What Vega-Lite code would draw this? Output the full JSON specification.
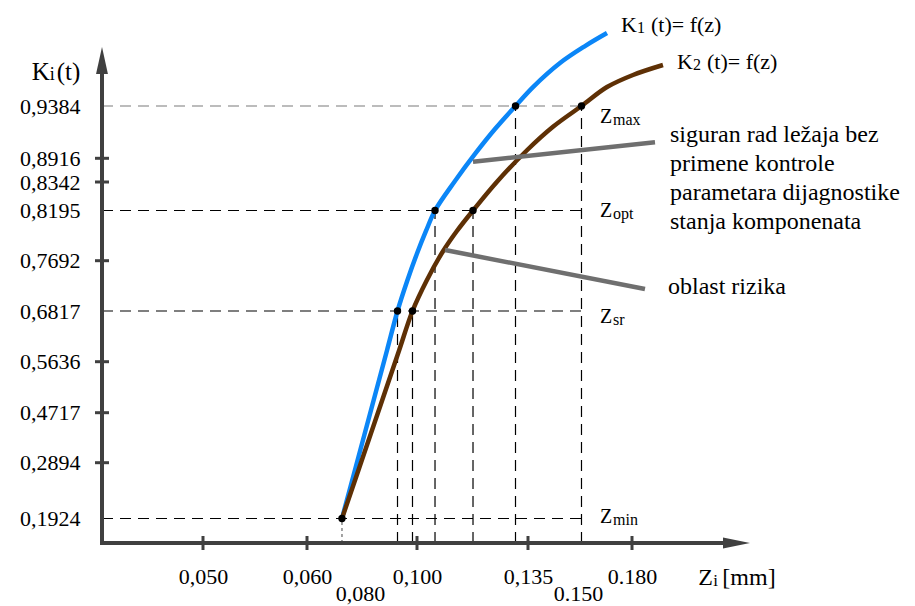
{
  "$schema": "https://vega.github.io/schema/vega-lite/v6.json",
  "width": 648,
  "height": 496,
  "autosize": {"type": "none"},
  "padding": {"left": 102, "top": 47, "right": 165, "bottom": 63},
  "background": "white",
  "config": {"view": {"stroke": null}, "text": {"font": "Liberation Serif", "color": "#000"}},
  "encoding": {
    "x": {
      "field": "z", "type": "quantitative",
      "scale": {
        "domain": [0.04, 0.05, 0.06, 0.08, 0.1, 0.135, 0.15, 0.18, 0.2],
        "range": [0, 101, 205, 258, 315, 426, 476, 530, 648],
        "nice": false, "zero": false
      },
      "axis": {
        "values": [0.05, 0.06, 0.08, 0.1, 0.135, 0.15, 0.18],
        "labelExpr": "(datum.value == 0.15 || datum.value == 0.18) ? format(datum.value, '.3f') : replace(format(datum.value, '.3f'), '.', ',')",
        "title": null, "grid": false, "domain": false, "ticks": false, "tickSize": 0,
        "labelPadding": {"condition": {"test": "datum.value == 0.08 || datum.value == 0.15", "value": 40}, "value": 23},
        "labelFont": "Liberation Serif", "labelFontSize": 22, "labelColor": "#000",
        "labelOverlap": false, "labelFlush": false, "labelBound": false, "labelBaseline": "top"
      }
    },
    "y": {
      "field": "k", "type": "quantitative",
      "scale": {
        "domain": [0, 0.1924, 0.2894, 0.4717, 0.5636, 0.6817, 0.7692, 0.8195, 0.8342, 0.8916, 0.9384, 1.0],
        "range": [496, 471.5, 415.7, 365.7, 314.7, 264, 213.7, 163.5, 135, 111.3, 59, 0],
        "nice": false, "zero": false
      },
      "axis": {
        "values": [0.1924, 0.2894, 0.4717, 0.5636, 0.6817, 0.7692, 0.8195, 0.8342, 0.8916, 0.9384],
        "labelExpr": "replace(format(datum.value, '.4f'), '.', ',')",
        "title": null, "grid": false, "domain": false, "ticks": false, "tickSize": 0,
        "labelPadding": 22,
        "labelFont": "Liberation Serif", "labelFontSize": 22, "labelColor": "#000",
        "labelOverlap": false, "labelFlush": false, "labelBound": false
      }
    }
  },
  "layer": [
    {
      "data": {"values": [
        {"z": 0.04, "z2": 0.15194, "k": 0.1924},
        {"z": 0.04, "z2": 0.15194, "k": 0.6817},
        {"z": 0.04, "z2": 0.15194, "k": 0.8195},
        {"z": 0.04, "z2": 0.15194, "k": 0.9384}
      ]},
      "mark": {"type": "rule", "strokeDash": [11, 7], "strokeWidth": 1.2},
      "encoding": {
        "x2": {"field": "z2"},
        "stroke": {"condition": {"test": "datum.k == 0.9384", "value": "#7a7a7a"}, "value": "#000"}
      }
    },
    {
      "data": {"values": [
        {"z": 0.09316, "k": 0, "k2": 0.6817},
        {"z": 0.09842, "k": 0, "k2": 0.6817},
        {"z": 0.10568, "k": 0, "k2": 0.8195},
        {"z": 0.11766, "k": 0, "k2": 0.8195},
        {"z": 0.13106, "k": 0, "k2": 0.9384},
        {"z": 0.15194, "k": 0, "k2": 0.9384}
      ]},
      "mark": {"type": "rule", "strokeDash": [11, 7], "strokeWidth": 1.2, "color": "#000"},
      "encoding": {"y2": {"field": "k2"}}
    },
    {
      "data": {"values": [{"z": 0.0732, "k": 0, "k2": 0.1924}]},
      "mark": {"type": "rule", "strokeDash": [3, 3], "strokeWidth": 1.2, "color": "#666"},
      "encoding": {"y2": {"field": "k2"}}
    },
    {
      "data": {"values": [
        {"series": "K1", "z": 0.0732, "k": 0.1924},
        {"series": "K1", "z": 0.07843, "k": 0.2824},
        {"series": "K1", "z": 0.08481, "k": 0.4946},
        {"series": "K1", "z": 0.08951, "k": 0.5909},
        {"series": "K1", "z": 0.09316, "k": 0.6817},
        {"series": "K1", "z": 0.09649, "k": 0.7330},
        {"series": "K1", "z": 0.1, "k": 0.7764},
        {"series": "K1", "z": 0.10284, "k": 0.7990},
        {"series": "K1", "z": 0.10568, "k": 0.8195},
        {"series": "K1", "z": 0.11198, "k": 0.8366},
        {"series": "K1", "z": 0.11829, "k": 0.8955},
        {"series": "K1", "z": 0.12459, "k": 0.9178},
        {"series": "K1", "z": 0.13106, "k": 0.9384},
        {"series": "K1", "z": 0.1365, "k": 0.9582},
        {"series": "K1", "z": 0.1446, "k": 0.9833},
        {"series": "K1", "z": 0.15389, "k": 1.0010},
        {"series": "K1", "z": 0.16611, "k": 1.0146},
        {"series": "K2", "z": 0.0732, "k": 0.1924},
        {"series": "K2", "z": 0.07985, "k": 0.2824},
        {"series": "K2", "z": 0.08782, "k": 0.4946},
        {"series": "K2", "z": 0.09377, "k": 0.5909},
        {"series": "K2", "z": 0.09842, "k": 0.6817},
        {"series": "K2", "z": 0.10306, "k": 0.7348},
        {"series": "K2", "z": 0.1082, "k": 0.7787},
        {"series": "K2", "z": 0.11252, "k": 0.7987},
        {"series": "K2", "z": 0.11766, "k": 0.8195},
        {"series": "K2", "z": 0.12523, "k": 0.8349},
        {"series": "K2", "z": 0.13468, "k": 0.8988},
        {"series": "K2", "z": 0.1425, "k": 0.9198},
        {"series": "K2", "z": 0.15194, "k": 0.9384},
        {"series": "K2", "z": 0.16611, "k": 0.9582},
        {"series": "K2", "z": 0.18017, "k": 0.9708},
        {"series": "K2", "z": 0.18525, "k": 0.9812}
      ]},
      "mark": {"type": "line", "strokeWidth": 4.5, "interpolate": "catmull-rom"},
      "encoding": {
        "color": {"field": "series", "type": "nominal", "scale": {"domain": ["K1", "K2"], "range": ["#0b86f7", "#5e3005"]}, "legend": null}
      }
    },
    {
      "data": {"values": [
        {"z": 0.11766, "k": 0.8834, "z2": 0.1839, "k2": 0.9059},
        {"z": 0.10883, "k": 0.7799, "z2": 0.1822, "k2": 0.7200}
      ]},
      "mark": {"type": "rule", "strokeWidth": 4.5, "color": "#6f6f6f"},
      "encoding": {"x2": {"field": "z2"}, "y2": {"field": "k2"}}
    },
    {
      "data": {"values": [
        {"z": 0.0732, "k": 0.1924},
        {"z": 0.09316, "k": 0.6817},
        {"z": 0.09842, "k": 0.6817},
        {"z": 0.10568, "k": 0.8195},
        {"z": 0.11766, "k": 0.8195},
        {"z": 0.13106, "k": 0.9384},
        {"z": 0.15194, "k": 0.9384}
      ]},
      "mark": {"type": "point", "filled": true, "size": 55, "color": "#000", "opacity": 1}
    },
    {
      "data": {"values": [{"z": 0.04, "k": 0, "k2": 0.976}]},
      "mark": {"type": "rule", "strokeWidth": 4, "color": "#404040", "strokeCap": "square"},
      "encoding": {"y2": {"field": "k2"}}
    },
    {
      "data": {"values": [{"z": 0.04, "z2": 0.196, "k": 0}]},
      "mark": {"type": "rule", "strokeWidth": 4, "color": "#404040", "strokeCap": "square"},
      "encoding": {"x2": {"field": "z2"}}
    },
    {
      "data": {"values": [
        {"z": 0.04, "k": 0.2894}, {"z": 0.04, "k": 0.4717}, {"z": 0.04, "k": 0.5636},
        {"z": 0.04, "k": 0.7692}, {"z": 0.04, "k": 0.8342}, {"z": 0.04, "k": 0.8916}
      ]},
      "mark": {"type": "tick", "orient": "horizontal", "size": 14, "thickness": 3, "color": "#404040", "opacity": 1}
    },
    {
      "data": {"values": [
        {"z": 0.05, "k": 0}, {"z": 0.06, "k": 0}, {"z": 0.1, "k": 0}, {"z": 0.135, "k": 0}, {"z": 0.18, "k": 0}
      ]},
      "mark": {"type": "tick", "orient": "vertical", "size": 14, "thickness": 3, "color": "#404040", "opacity": 1}
    },
    {
      "data": {"values": [{"z": 0.04, "k": 1.0, "dir": "up"}, {"z": 0.2, "k": 0, "dir": "right"}]},
      "mark": {"type": "point", "filled": true, "size": 2916, "color": "#404040", "opacity": 1, "strokeWidth": 0},
      "encoding": {
        "shape": {"field": "dir", "type": "nominal", "scale": {"domain": ["up", "right"], "range": ["M0,0L0.22,1L-0.22,1Z", "M0,0L-1,-0.2L-1,0.2Z"]}, "legend": null}
      }
    },
    {
      "data": {"values": [
        {"z": 0.16222, "k": 0.9286, "t": "Z"},
        {"z": 0.16222, "k": 0.8195, "t": "Z"},
        {"z": 0.16222, "k": 0.6677, "t": "Z"},
        {"z": 0.16222, "k": 0.195, "t": "Z"}
      ]},
      "mark": {"type": "text", "fontSize": 20, "align": "left", "baseline": "middle"},
      "encoding": {"text": {"field": "t"}}
    },
    {
      "data": {"values": [
        {"z": 0.16222, "k": 0.9286, "t": "max"},
        {"z": 0.16222, "k": 0.8195, "t": "opt"},
        {"z": 0.16222, "k": 0.6677, "t": "sr"},
        {"z": 0.16222, "k": 0.195, "t": "min"}
      ]},
      "mark": {"type": "text", "fontSize": 16, "align": "left", "baseline": "middle", "dx": 13, "dy": 3},
      "encoding": {"text": {"field": "t"}}
    },
    {
      "data": {"values": [
        {"z": 0.1739, "k": 1.023, "t": "K"},
        {"z": 0.18763, "k": 0.9847, "t": "K"}
      ]},
      "mark": {"type": "text", "fontSize": 22, "align": "left", "baseline": "middle"},
      "encoding": {"text": {"field": "t"}}
    },
    {
      "data": {"values": [
        {"z": 0.1739, "k": 1.023, "t": "1"},
        {"z": 0.18763, "k": 0.9847, "t": "2"}
      ]},
      "mark": {"type": "text", "fontSize": 16, "align": "left", "baseline": "middle", "dx": 16, "dy": 3},
      "encoding": {"text": {"field": "t"}}
    },
    {
      "data": {"values": [
        {"z": 0.1739, "k": 1.023, "t": "(t)= f(z)"},
        {"z": 0.18763, "k": 0.9847, "t": "(t)= f(z)"}
      ]},
      "mark": {"type": "text", "fontSize": 22, "align": "left", "baseline": "middle", "dx": 30},
      "encoding": {"text": {"field": "t"}}
    },
    {
      "data": {"values": [{"z": 0.03304, "k": 0.9742, "t": "K"}]},
      "mark": {"type": "text", "fontSize": 25, "align": "left", "baseline": "middle"},
      "encoding": {"text": {"field": "t"}}
    },
    {
      "data": {"values": [{"z": 0.03304, "k": 0.9742, "t": "i"}]},
      "mark": {"type": "text", "fontSize": 18, "align": "left", "baseline": "middle", "dx": 18, "dy": 3},
      "encoding": {"text": {"field": "t"}}
    },
    {
      "data": {"values": [{"z": 0.03304, "k": 0.9742, "t": "(t)"}]},
      "mark": {"type": "text", "fontSize": 25, "align": "left", "baseline": "middle", "dx": 25},
      "encoding": {"text": {"field": "t"}}
    },
    {
      "data": {"values": [{"z": 0.19124, "k": -0.2772, "t": "Z"}]},
      "mark": {"type": "text", "fontSize": 24, "align": "left", "baseline": "middle"},
      "encoding": {"text": {"field": "t"}}
    },
    {
      "data": {"values": [{"z": 0.19124, "k": -0.2772, "t": "i"}]},
      "mark": {"type": "text", "fontSize": 17, "align": "left", "baseline": "middle", "dx": 15, "dy": 3},
      "encoding": {"text": {"field": "t"}}
    },
    {
      "data": {"values": [{"z": 0.19124, "k": -0.2772, "t": "[mm]"}]},
      "mark": {"type": "text", "fontSize": 24, "align": "left", "baseline": "middle", "dx": 24},
      "encoding": {"text": {"field": "t"}}
    },
    {
      "data": {"values": [
        {"z": 0.18644, "k": 0.9125, "t": "siguran rad ležaja bez\nprimene kontrole\nparametara dijagnostike\nstanja komponenata"},
        {"z": 0.1861, "k": 0.7235, "t": "oblast rizika"}
      ]},
      "mark": {"type": "text", "fontSize": 24, "align": "left", "baseline": "middle", "lineBreak": "\n", "lineHeight": 29},
      "encoding": {"text": {"field": "t"}}
    }
  ]
}
